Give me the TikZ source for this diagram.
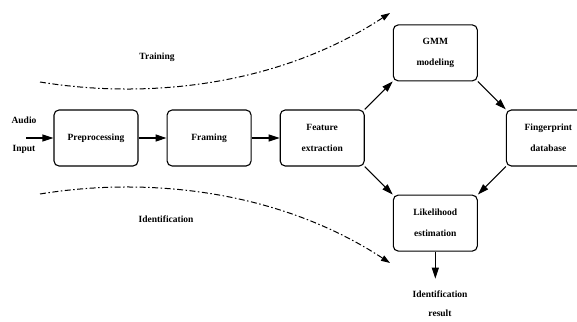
\documentclass[tikz,border=0pt]{standalone}
\usepackage{fontspec}
\setmainfont{Liberation Serif}
\usepackage{tikz}
\usetikzlibrary{arrows.meta,positioning}

\begin{document}
\begin{tikzpicture}[
x=1pt,y=-1pt,
node distance=28pt and 28pt,
font=\fontsize{9.5}{21}\selectfont\bfseries,
box/.style={
draw,
line width=1.1pt,
rounded corners=5pt,
minimum width=84pt,
minimum height=56pt,
align=center
},
label/.style={align=center},
arrow/.style={-{Triangle[length=11pt,width=7pt]},line width=1.1pt},
phase/.style={-{Triangle[length=9pt,width=6pt]},line width=1pt,
dash pattern=on 6pt off 2.5pt on 1.5pt off 2.5pt}
]
\useasboundingbox (0,0) rectangle (577,321);

\node[box] (pre) at (96,138) {Preprocessing};
\node[box,right=of pre] (frame) {Framing};
\node[box,right=of frame] (feat) {Feature\\extraction};
\node[box,above right=of feat] (gmm) {GMM\\modeling};
\node[box,below right=of gmm] (fpdb) {Fingerprint\\database};
\node[box,below right=of feat] (lik) {Likelihood\\estimation};

\node[label] (audio) at (24,135) {Audio\\[7pt]Input};
\coordinate (in) at (26,138);
\coordinate[below=27pt of lik] (resin);
\node[label,font=\fontsize{9.5}{19}\selectfont\bfseries] (res) at (440,304) {Identification\\result};

\node[label] (train) at (157,57) {Training};
\node[label] (ident) at (166,219) {Identification};
\coordinate (tstart) at (40,82);
\coordinate (tend) at (390,13);
\coordinate (istart) at (40,194);
\coordinate (iend) at (390,263);

\draw[arrow] (in) -- (pre);
\draw[arrow] (pre) -- (frame);
\draw[arrow] (frame) -- (feat);
\draw[arrow] (feat.north east) -- (gmm.south west);
\draw[arrow] (gmm.south east) -- (fpdb.north west);
\draw[arrow] (feat.south east) -- (lik.north west);
\draw[arrow] (fpdb.south west) -- (lik.north east);
\draw[arrow] (lik) -- (resin);

% training / identification paths
\draw[phase] (tstart) .. controls (150,100) and (280,85) .. (tend);
\draw[phase] (istart) .. controls (150,176) and (280,191) .. (iend);
\end{tikzpicture}
\end{document}
